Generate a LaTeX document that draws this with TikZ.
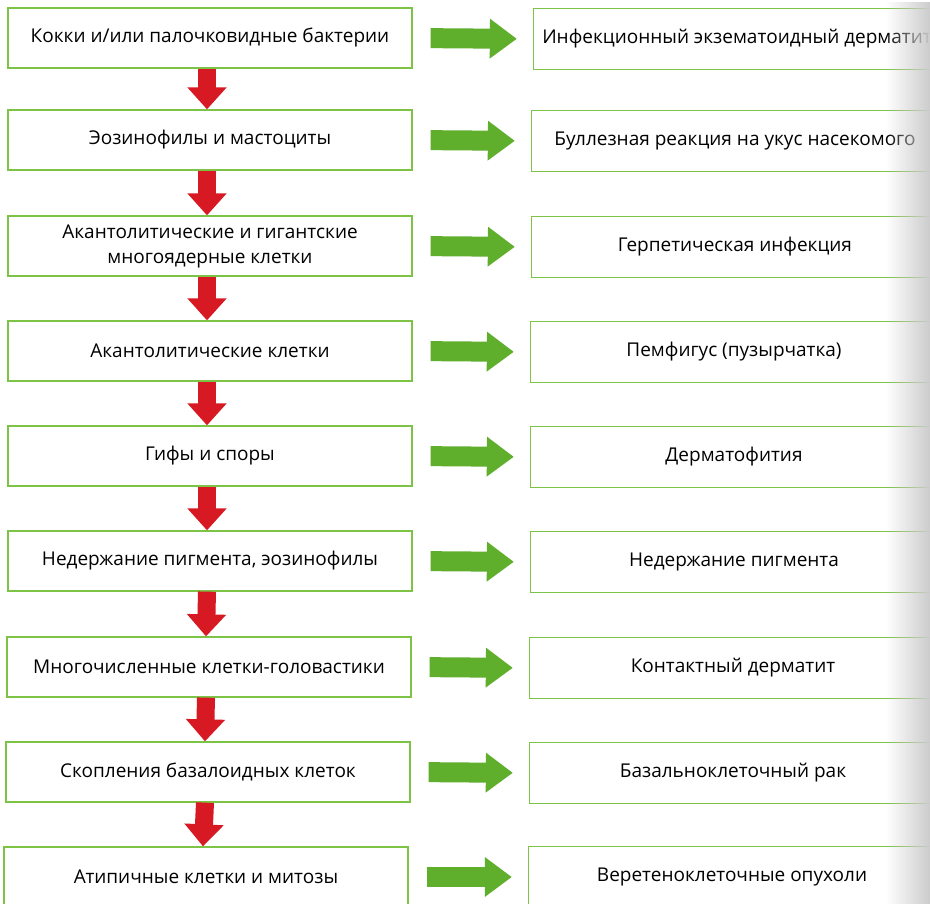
\documentclass[tikz,border=0pt]{standalone}
\usepackage{fontspec}
\setmainfont{Open Sans}
\usetikzlibrary{arrows.meta,fadings}
\definecolor{boxgreen}{RGB}{125,195,70}
\definecolor{arrgreen}{RGB}{95,175,45}
\definecolor{arrred}{RGB}{215,25,35}
\tikzset{
  lbox/.style={draw=boxgreen, line width=1.3pt, fill=white, minimum width=404pt, minimum height=60pt, inner sep=2pt, align=center, font=\fontsize{19}{25}\selectfont},
  rbox/.style={draw=boxgreen, line width=1.3pt, fill=white, minimum width=407pt, minimum height=61pt, inner sep=2pt, align=center, font=\fontsize{19}{25}\selectfont},
  garrow/.style={draw=arrgreen, line width=20pt, -{Triangle[length=27pt 0, width=38pt 0, fill=arrgreen]}, shorten <=18pt, shorten >=16pt},
  rarrow/.style={draw=arrred, line width=18pt, -{Triangle[length=22pt 0, width=38pt 0, fill=arrred]}}
}
\begin{document}
\begin{tikzpicture}[x=1pt,y=-1pt]
\useasboundingbox (0,0) rectangle (930,904);
\fill[white] (0,0) rectangle (930,904);
\node[lbox] (L1) at (210,38) {Кокки и/или палочковидные бактерии};
\node[lbox] (L2) at (210,140) {Эозинофилы и мастоциты};
\node[lbox] (L3) at (210,246) {Акантолитические и гигантские\\многоядерные клетки};
\node[lbox] (L4) at (210,351) {Акантолитические клетки};
\node[lbox] (L5) at (210,456) {Гифы и споры};
\node[lbox] (L6) at (210,561) {Недержание пигмента, эозинофилы};
\node[lbox] (L7) at (209,667) {Многочисленные клетки-головастики};
\node[lbox] (L8) at (208,772) {Скопления базалоидных клеток};
\node[lbox] (L9) at (206,877) {Атипичные клетки и митозы};
\node[rbox] (R1) at (737,39) {Инфекционный экзематоидный дерматит};
\node[rbox] (R2) at (735,141) {Буллезная реакция на укус насекомого};
\node[rbox] (R3) at (735,247) {Герпетическая инфекция};
\node[rbox] (R4) at (734,352) {Пемфигус (пузырчатка)};
\node[rbox] (R5) at (734,457) {Дерматофития};
\node[rbox] (R6) at (734,562) {Недержание пигмента};
\node[rbox] (R7) at (733,668) {Контактный дерматит};
\node[rbox] (R8) at (733,773) {Базальноклеточный рак};
\node[rbox] (R9) at (732,877) {Веретеноклеточные опухоли};
\foreach \i in {1,...,9}{
  \draw[garrow] (L\i.east) -- (R\i.west);
}
\foreach \i/\j in {1/2,2/3,3/4,4/5,5/6,6/7,7/8,8/9}{
  \draw[rarrow] ([xshift=-3pt]L\i.south) -- ([xshift=-3pt]L\j.north);
}
\fill[black!20, path fading=west] (886,0) rectangle (930,904);
\end{tikzpicture}
\end{document}
